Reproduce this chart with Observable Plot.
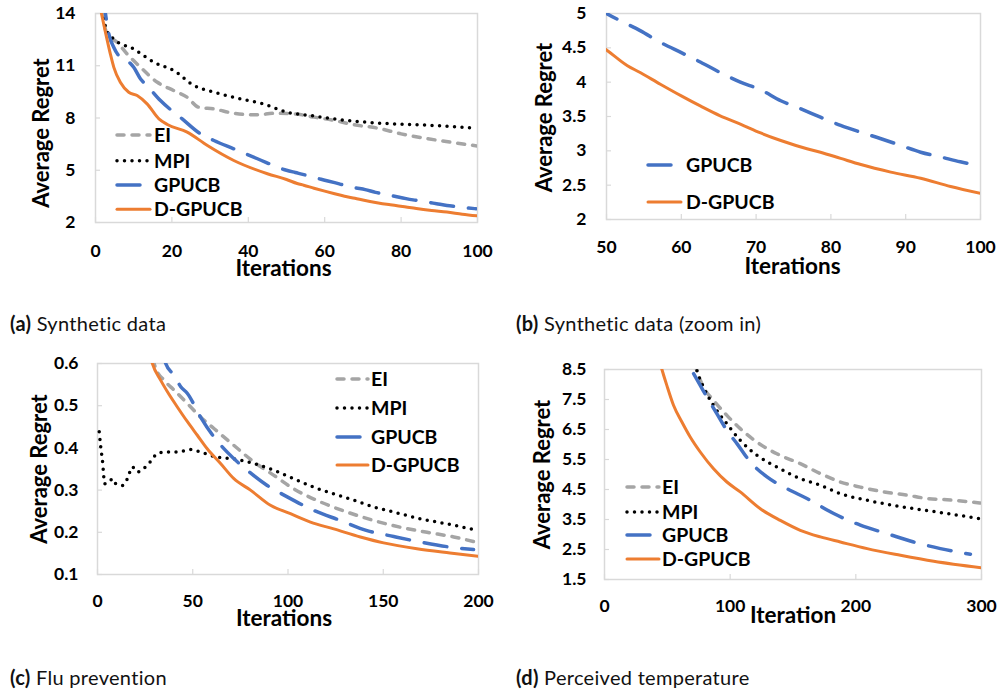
<!DOCTYPE html>
<html><head><meta charset="utf-8">
<script src="https://cdn.jsdelivr.net/npm/d3@7"></script>
<script src="https://cdn.jsdelivr.net/npm/@observablehq/plot@0.6"></script>
<style>
body{margin:0;background:#fff;}
#root{position:relative;width:1000px;height:692px;background:#fff;overflow:hidden;font-family:Lato,"Noto Sans",sans-serif;}
.panel{position:absolute;}
.caption{position:absolute;font-family:Lato,sans-serif;font-size:20px;letter-spacing:0.3px;line-height:22px;color:#111;white-space:nowrap;}
.caption b{font-weight:bold;}
#overlay{position:absolute;left:0;top:0;pointer-events:none;}
</style></head>
<body><div id="root"></div>
<script>
// ---------- data (iteration, average regret) ----------
const synthEI = [[1,15],[1.8,14],[3,12.82],[5.7,12.34],[8.3,11.67],[11.8,10.91],[16.2,10.05],[20.5,9.57],[24,9.19],[27,8.62],[31,8.52],[36.2,8.27],[42.4,8.18],[46.7,8.27],[52,8.24],[57.2,8.05],[62.4,7.86],[67.7,7.61],[73.8,7.42],[80,7.09],[87,6.81],[93,6.61],[100,6.39]];
const synthMPI = [[1,15],[1.8,14],[3,13.0],[4.8,12.53],[10,11.96],[15.3,11.2],[20.5,10.72],[25.8,9.86],[31,9.48],[38,9.1],[44,8.81],[50.2,8.33],[56.3,8.14],[62.4,7.95],[67.7,7.82],[74.7,7.7],[81.7,7.63],[88.6,7.57],[98.3,7.44]];
const synthGPUCB = [[2,15],[2.6,14],[3.5,12.82],[4.8,12.05],[6.5,11.48],[8.3,11.29],[10,10.91],[11.8,10.24],[13.5,9.86],[17,9.0],[22.7,7.95],[27.5,7.09],[31,6.71],[36.2,6.23],[42.4,5.66],[50,5.0],[52.3,4.87],[54.5,4.75],[57.2,4.58],[60,4.43],[62.6,4.29],[65.2,4.14],[67.9,4.0],[70.6,3.89],[73.3,3.73],[76,3.61],[78.6,3.49],[81.3,3.37],[84,3.27],[86.6,3.18],[89.3,3.08],[92,2.98],[94.7,2.91],[97.3,2.84],[99.6,2.79]];
const synthDGPUCB = [[1,14.6],[2.9,12.63],[3.9,11.67],[4.8,10.91],[6.5,10.05],[8.7,9.48],[10.9,9.29],[13.5,8.81],[16.6,7.95],[18.8,7.63],[24,7.19],[29.3,6.42],[36.2,5.56],[45,4.8],[50,4.47],[52.8,4.24],[54.5,4.14],[57.2,3.97],[60,3.8],[62.6,3.65],[65.2,3.51],[67.9,3.39],[70.6,3.26],[73.3,3.15],[76.8,3.03],[78.6,2.98],[81.3,2.89],[84,2.8],[88,2.69],[92,2.6],[96,2.48],[100,2.38]];

const fluEI = [[29,0.61],[30.6,0.588],[35,0.56],[40.2,0.537],[47.2,0.505],[54.1,0.473],[61.1,0.446],[71.6,0.406],[82,0.367],[92.6,0.335],[103,0.303],[117,0.272],[131,0.248],[145,0.228],[159,0.212],[173,0.2],[187,0.189],[200,0.175]];
const fluMPI = [[0.9,0.438],[1.7,0.402],[2.6,0.37],[3.8,0.315],[6.1,0.319],[7.9,0.327],[9.6,0.315],[13.1,0.311],[15.7,0.327],[18.3,0.355],[21,0.343],[26.2,0.359],[31.4,0.386],[35,0.39],[41.9,0.39],[48.9,0.396],[54.1,0.39],[62.9,0.378],[71.6,0.374],[82,0.363],[92.6,0.347],[103,0.327],[113.5,0.307],[124,0.291],[134.5,0.276],[145,0.26],[155.5,0.248],[169.4,0.232],[183.4,0.22],[200,0.204]];
const fluGPUCB = [[34,0.63],[35.8,0.6],[40.2,0.572],[43.7,0.545],[47.2,0.529],[54.1,0.473],[61.1,0.426],[68.1,0.39],[78.6,0.347],[89.1,0.311],[99.6,0.284],[113.5,0.252],[127.5,0.228],[141.5,0.204],[155.5,0.19],[169.4,0.177],[183.4,0.166],[197.4,0.159]];
const fluDGPUCB = [[27,0.63],[28.8,0.6],[33.2,0.56],[36.7,0.533],[41.9,0.497],[47.2,0.462],[52.4,0.43],[57.6,0.398],[64.6,0.363],[71.6,0.327],[80.3,0.3],[90.8,0.264],[101.3,0.244],[111.8,0.224],[124,0.208],[138,0.189],[150.2,0.175],[167.7,0.161],[185,0.151],[200,0.143]];

const tempEI = [[72,8.7],[73.5,8.47],[78.8,7.91],[86.8,7.47],[97.4,6.97],[108,6.53],[121.3,6.08],[137.2,5.69],[155.8,5.36],[171.8,5.03],[187.7,4.75],[203.6,4.58],[222.2,4.42],[240.8,4.31],[256.7,4.2],[272.6,4.16],[299,4.05]];
const tempMPI = [[72,8.7],[73.5,8.47],[78.8,7.91],[86.8,7.3],[97.4,6.69],[108,6.14],[121.3,5.64],[137.2,5.25],[155.8,4.86],[171.8,4.64],[187.7,4.36],[209,4.14],[230,3.97],[251.4,3.83],[272.6,3.7],[298,3.53]];
const tempGPUCB = [[70.9,8.36],[76.2,7.97],[81.5,7.58],[89.5,7.02],[97.4,6.47],[105.4,6.03],[116,5.42],[129.3,4.92],[145.2,4.53],[161.1,4.2],[182.4,3.7],[203.6,3.31],[224.8,3.03],[246,2.75],[267.3,2.53],[291.2,2.34]];
const tempDGPUCB = [[44,8.75],[45.7,8.5],[49.6,7.97],[55,7.3],[61.6,6.75],[68.2,6.25],[76.2,5.75],[86.8,5.19],[97.4,4.75],[108,4.42],[124,3.86],[139.9,3.47],[155.8,3.14],[171.8,2.92],[187.7,2.75],[209,2.53],[235.5,2.31],[262,2.11],[300,1.89]];

// ---------- ticks / labels ----------
const ticksA_x = [0,20,40,60,80,100];
const ticksA_y = [2,5,8,11,14];
const ticksB_x = [50,60,70,80,90,100];
const ticksB_y = [2,2.5,3,3.5,4,4.5,5];
const ticksC_x = [0,50,100,150,200];
const ticksC_y = [0.1,0.2,0.3,0.4,0.5,0.6];
const ticksD_x = [0,100,200,300];
const ticksD_y = [1.5,2.5,3.5,4.5,5.5,6.5,7.5,8.5];
const seriesNames = ["EI","MPI","GPUCB","D-GPUCB"];
const captions = [["(a)"," Synthetic data"],["(b)"," Synthetic data (zoom in)"],["(c)"," Flu prevention"],["(d)"," Perceived temperature"]];

// ---------- styles ----------
const lineStyle = {
  "EI":      {stroke:"#A5A5A5", strokeWidth:3.5, strokeDasharray:"7,8", strokeLinecap:"round"},
  "MPI":     {stroke:"#000000", strokeWidth:3.5, strokeDasharray:"0,7.5", strokeLinecap:"round"},
  "GPUCB":   {stroke:"#4472C4", strokeWidth:3.5, strokeDasharray:"23,15", strokeLinecap:"round"},
  "D-GPUCB": {stroke:"#ED7D31", strokeWidth:3,   strokeLinecap:"round"}
};

const panels = [
  {left:0, top:0, width:500, height:290, m:[13,23,68,95], xd:[0,100], xt:ticksA_x, yd:[2,14], yt:ticksA_y,
   series:[["EI",synthEI],["MPI",synthMPI],["GPUCB",synthGPUCB],["D-GPUCB",synthDGPUCB]],
   xPad:22, yPad:20, xTitle:"Iterations", xtdx:-3, xtdy:46, ytdx:-54, ytdy:15,
   legend:{x1:117, x2:150, tx:154, ys:[135,160.7,185,209.3], names:seriesNames}},
  {left:500, top:0, width:500, height:290, m:[13,20,71,106], xd:[50,100], xt:ticksB_x, yd:[2,5], yt:ticksB_y,
   series:[["GPUCB",synthGPUCB],["D-GPUCB",synthDGPUCB]],
   xPad:21, yPad:20, xTitle:"Iterations", xtdy:47, xtdx:-1, ytdx:-62, ytdy:1,
   legend:{x1:648, x2:681, tx:686, ys:[165,202], names:["GPUCB","D-GPUCB"]}},
  {left:0, top:345, width:500, height:300, m:[18,22,71,97], xd:[0,200], xt:ticksC_x, yd:[0.1,0.6], yt:ticksC_y,
   series:[["EI",fluEI],["MPI",fluMPI],["GPUCB",fluGPUCB],["D-GPUCB",fluDGPUCB]],
   xPad:20, yPad:19, xTitle:"Iterations", xtdx:-4, xtdy:44, ytdx:-58, ytdy:0,
   legend:{x1:337, x2:368, tx:371, ys:[379,408,437,465], names:seriesNames}},
  {left:500, top:345, width:500, height:300, m:[24,19,66,104], xd:[0,300], xt:ticksD_x, yd:[1.5,8.5], yt:ticksD_y,
   series:[["EI",tempEI],["MPI",tempMPI],["GPUCB",tempGPUCB],["D-GPUCB",tempDGPUCB]],
   xPad:20, yPad:18, xTitle:"Iteration", xtdx:0, xtdy:36, ytdx:-62, ytdy:0,
   legend:{x1:627, x2:659, tx:662, ys:[487,512,535,559], names:seriesNames}}
];

const root = document.getElementById("root");
const FONT = "Lato, 'Noto Sans', sans-serif";

panels.forEach(p => {
  const marks = [
    Plot.frame({stroke:"#d9d9d9", strokeWidth:1.5}),
    Plot.axisX(p.xt, {tickSize:5, dy:-5, stroke:"#d9d9d9", strokeWidth:1.2, tickFormat:() => ""}),
    Plot.axisY(p.yt, {tickSize:5, dx:5, stroke:"#d9d9d9", strokeWidth:1.2, tickFormat:() => ""}),
    Plot.axisX(p.xt, {tickSize:0, tickPadding:p.xPad, tickFormat:d => String(d), fontSize:17.5, fontWeight:"bold", fill:"#000"}),
    Plot.axisY(p.yt, {tickSize:0, tickPadding:p.yPad, tickFormat:d => String(d), fontSize:17.5, fontWeight:"bold", fill:"#000"}),
    ...p.series.map(([name, data]) => Plot.line(data, {x:d => d[0], y:d => d[1], curve:"monotone-x", clip:true, ...lineStyle[name]})),
    Plot.text([p.xTitle], {text:d => d, frameAnchor:"bottom", textAnchor:"middle", lineAnchor:"middle", dx:p.xtdx, dy:p.xtdy, fontSize:22.5, fontWeight:"bold", fill:"#000"}),
    Plot.text(["Average Regret"], {text:d => d, frameAnchor:"left", textAnchor:"middle", lineAnchor:"middle", rotate:-90, dx:p.ytdx, dy:p.ytdy, fontSize:22, fontWeight:"bold", fill:"#000"})
  ];
  const svg = Plot.plot({
    width:p.width, height:p.height,
    marginTop:p.m[0], marginRight:p.m[1], marginBottom:p.m[2], marginLeft:p.m[3],
    x:{domain:p.xd}, y:{domain:p.yd},
    style:{fontFamily:FONT, fontSize:"17px", fontWeight:"bold", background:"transparent", overflow:"visible"},
    marks
  });
  const div = document.createElement("div");
  div.className = "panel";
  div.style.left = p.left + "px";
  div.style.top = p.top + "px";
  div.appendChild(svg);
  root.appendChild(div);
});

// legends (inside the plot areas, as in the reference)
const overlay = d3.select(root).append("svg").attr("id","overlay").attr("width",1000).attr("height",692);
panels.forEach(p => {
  const L = p.legend;
  L.names.forEach((name, i) => {
    const s = lineStyle[name];
    overlay.append("line").attr("x1",L.x1).attr("x2",L.x2).attr("y1",L.ys[i]).attr("y2",L.ys[i])
      .attr("stroke",s.stroke).attr("stroke-width",s.strokeWidth).attr("stroke-dasharray",s.strokeDasharray || null)
      .attr("stroke-linecap",s.strokeLinecap);
    overlay.append("text").attr("x",L.tx).attr("y",L.ys[i]).attr("dy","0.36em")
      .attr("font-family",FONT).attr("font-size",19.5).attr("font-weight","bold").attr("fill","#000").text(name);
  });
});

// captions
const capPos = [[10,312],[516,312],[10,666],[516,666]];
captions.forEach((c, i) => {
  const d = document.createElement("div");
  d.className = "caption";
  d.style.left = capPos[i][0] + "px";
  d.style.top = capPos[i][1] + "px";
  d.innerHTML = "<b>" + c[0] + "</b>" + c[1];
  root.appendChild(d);
});
</script></body></html>
